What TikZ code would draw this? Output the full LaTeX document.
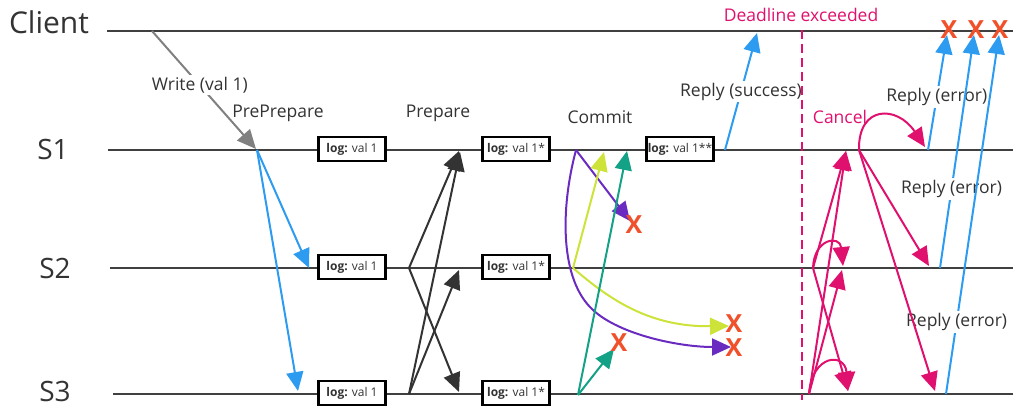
\documentclass[tikz,border=0pt]{standalone}
\usepackage{fontspec}
\setmainfont{Open Sans}
\usetikzlibrary{arrows.meta}
\definecolor{ink}{HTML}{333333}
\definecolor{lanegray}{HTML}{404040}
\definecolor{msgblue}{HTML}{2D9BF0}
\definecolor{msggray}{HTML}{808080}
\definecolor{prepink}{HTML}{333333}
\definecolor{cpurple}{HTML}{6A2BC0}
\definecolor{clime}{HTML}{CDE33A}
\definecolor{cteal}{HTML}{14A286}
\definecolor{cancelpink}{HTML}{E0106E}
\definecolor{lostred}{HTML}{F0502A}
\begin{document}
\begin{tikzpicture}[x=1pt,y=-1pt,
  laneline/.style={draw=lanegray, line width=2.5pt},
  lanename/.style={text=ink, font=\fontsize{28}{32}\selectfont},
  msg/.style={line width=2pt, -{Triangle[length=19pt,width=17pt]}},
  stage/.style={text=ink, font=\fontsize{17.5}{21}\selectfont},
  onwire/.style={fill=white, inner sep=2pt, text=ink, font=\fontsize{17.5}{21}\selectfont},
  logbox/.style={draw=black, fill=white, line width=2.5pt, minimum width=67pt, minimum height=24pt, inner sep=0pt, text=ink, font=\fontsize{12}{14}\selectfont},
  lost/.style={text=lostred, inner sep=0pt, font=\fontsize{25}{25}\bfseries\selectfont}
]
\useasboundingbox (0,0) rectangle (1013,406);

% lanes
\node[lanename, font=\fontsize{30}{34}\selectfont] (client) at (49,22) {Client};
\node[lanename] (s1) at (53,150) {S1};
\node[lanename] (s2) at (55,268) {S2};
\node[lanename] (s3) at (55,391) {S3};
\coordinate (cL) at (107,31);  \coordinate (cR) at (1013,31);
\coordinate (aL) at (108,150); \coordinate (aR) at (1013,150);
\coordinate (bL) at (110,268); \coordinate (bR) at (1013,268);
\coordinate (dL) at (113,394); \coordinate (dR) at (1013,394);
\path[laneline] (cL) -- (cR);
\path[laneline] (aL) -- (aR);
\path[laneline] (bL) -- (bR);
\path[laneline] (dL) -- (dR);

% log boxes
\node[logbox] (l11) at (352,149) {\textbf{log:} val 1};
\node[logbox] (l12) at (352,267) {\textbf{log:} val 1};
\node[logbox] (l13) at (352,393) {\textbf{log:} val 1};
\node[logbox] (l21) at (516,149) {\textbf{log:} val 1*};
\node[logbox] (l22) at (516,267) {\textbf{log:} val 1*};
\node[logbox] (l23) at (516,393) {\textbf{log:} val 1*};
\node[logbox] (l31) at (680,149) {\textbf{log:} val 1**};

% write request
\coordinate (w0) at (152,31);
\coordinate (w1) at (256,149);
\draw[msg, msggray] (w0) -- node[onwire, pos=0.46] (wlab) {Write (val 1)} (w1);

% preprepare
\node[stage] (tpp) at (278,113) {PrePrepare};
\coordinate (pp) at (257,150);
\coordinate (pp2) at (309,268);
\coordinate (pp3) at (298,391);
\draw[msg, msgblue] (pp) -- (pp2);
\draw[msg, msgblue] (pp) -- (pp3);

% prepare
\node[stage] (tp) at (438,113) {Prepare};
\coordinate (p2) at (409,268);
\coordinate (p3) at (409,394);
\coordinate (p2a) at (459,151);
\coordinate (p2c) at (459,392);
\coordinate (p3a) at (460,152);
\coordinate (p3b) at (459,270);
\draw[msg, prepink] (p2) -- (p2a);
\draw[msg, prepink] (p2) -- (p2c);
\draw[msg, prepink] (p3) -- (p3a);
\draw[msg, prepink] (p3) -- (p3b);

% commit
\node[stage] (tc) at (600,117) {Commit};
\coordinate (cm1) at (576,150);
\coordinate (cm2) at (573,268);
\coordinate (cm3) at (578,395);
\coordinate (cm1b) at (630,221);
\coordinate (cm1c) at (731,347);
\coordinate (cm2a) at (604,152);
\coordinate (cm2c) at (729,326);
\coordinate (cm3a) at (627,151);
\coordinate (cm3c) at (614,349);
\draw[msg, cpurple] (cm1) -- (cm1b);
\draw[msg, cpurple] (cm1) .. controls (560,210) and (560,280) .. (593,310)
  .. controls (620,335) and (680,347) .. (cm1c);
\draw[msg, clime] (cm2) -- (cm2a);
\draw[msg, clime] (cm2) .. controls (610,300) and (650,327) .. (cm2c);
\draw[msg, cteal] (cm3) -- (cm3a);
\draw[msg, cteal] (cm3) -- (cm3c);
\node[lost] (x1) at (634,225) {X};
\node[lost] (x2) at (734,324) {X};
\node[lost] (x3) at (734,348) {X};
\node[lost] (x4) at (619,343) {X};

% reply success
\coordinate (rs0) at (725,150);
\coordinate (rs1) at (757,33);
\draw[msg, msgblue] (rs0) -- node[onwire, pos=0.5] (rslab) {Reply (success)} (rs1);

% deadline
\node[text=cancelpink, font=\fontsize{17.5}{21}\selectfont] (tdl) at (801,15) {Deadline exceeded};
\coordinate (dl0) at (802,30);
\coordinate (dl1) at (802,400);
\draw[cancelpink, line width=2.5pt, dash pattern=on 9pt off 5pt] (dl0) -- (dl1);

% error replies
\coordinate (e1) at (928,150);
\coordinate (e2) at (940,268);
\coordinate (e3) at (946,394);
\coordinate (e1t) at (947,35);
\coordinate (e2t) at (974,35);
\coordinate (e3t) at (999,35);
\draw[msg, msgblue] (e1) -- node[onwire, pos=0.46] (e1lab) {Reply (error)} (e1t);
\draw[msg, msgblue] (e2) -- node[onwire, pos=0.34] (e2lab) {Reply (error)} (e2t);
\draw[msg, msgblue] (e3) -- node[onwire, pos=0.2] (e3lab) {Reply (error)} (e3t);
\node[lost] (x5) at (949,30) {X};
\node[lost] (x6) at (976,30) {X};
\node[lost] (x7) at (1000,30) {X};

% cancel
\node[text=cancelpink, font=\fontsize{17.5}{21}\selectfont] (tcn) at (840,117) {Cancel};
\coordinate (k1) at (859,150);
\coordinate (k2) at (813,268);
\coordinate (k3) at (809,394);
\coordinate (k1a) at (846,151);
\coordinate (k2l) at (843,266);
\coordinate (k2d) at (842,270);
\coordinate (k3d) at (848,391);
\coordinate (k1l) at (925,147);
\coordinate (k1b) at (929,266);
\coordinate (k1c) at (935,391);
\draw[msg, cancelpink] (k2) -- (k1a);
\draw[msg, cancelpink] (k3) -- (k1a);
\draw[msg, cancelpink] (k2) .. controls (814,238) and (840,235) .. (k2l);
\draw[msg, cancelpink] (k3) .. controls (812,354) and (845,352) .. (k3d);
\draw[msg, cancelpink] (k2) -- (k3d);
\draw[msg, cancelpink] (k3) -- (k2d);
\draw[msg, cancelpink] (k1) .. controls (858,105) and (897,105) .. (k1l);
\draw[msg, cancelpink] (k1) -- (k1b);
\draw[msg, cancelpink] (k1) -- (k1c);
\end{tikzpicture}
\end{document}
